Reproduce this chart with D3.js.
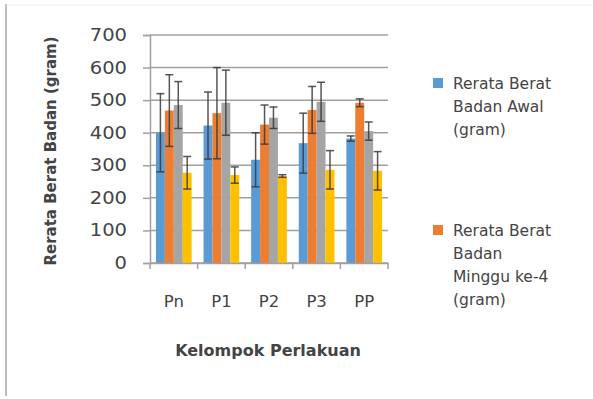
<!DOCTYPE html>
<html><head><meta charset="utf-8">
<script src="https://cdn.jsdelivr.net/npm/d3@7"></script>
<style>html,body{margin:0;padding:0;background:#fff;}svg{display:block;}</style>
</head><body>
<svg id="chart" width="593" height="399"></svg>
<script>
const categories = ["Pn", "P1", "P2", "P3", "PP"];
const seriesNames = ["Rerata Berat Badan Awal (gram)", "Rerata Berat Badan Minggu ke-4 (gram)", "Seri 3", "Seri 4"];
const awal = [400, 422, 317, 368, 382];
const awalErr = [120, 103, 83, 92, 8];
const minggu4 = [468, 460, 425, 470, 492];
const minggu4Err = [110, 140, 60, 72, 12];
const seri3 = [485, 492, 446, 495, 405];
const seri3Err = [72, 100, 33, 60, 28];
const seri4 = [277, 270, 267, 286, 283];
const seri4Err = [50, 25, 4, 59, 59];
const yTicks = [0, 100, 200, 300, 400, 500, 600, 700];
const colors = ["#5B9BD5", "#ED7D31", "#A5A5A5", "#FFC000"];

const values = [awal, minggu4, seri3, seri4];
const errs = [awalErr, minggu4Err, seri3Err, seri4Err];

const svg = d3.select("#chart");
const font = "DejaVu Sans, sans-serif";
const textCol = "#444";

// outer border
svg.append("line").attr("x1", 6).attr("x2", 6).attr("y1", 4).attr("y2", 396)
  .attr("stroke", "#bdbdbd").attr("stroke-width", 2);
svg.append("line").attr("x1", 6).attr("x2", 593).attr("y1", 5).attr("y2", 5)
  .attr("stroke", "#ececec").attr("stroke-width", 1);

const y = d3.scaleLinear().domain([0, 700]).range([263, 35]);
const x0 = d3.scaleBand().domain(categories).range([150, 388]).paddingInner(0.25).paddingOuter(0.125);
const x1 = d3.scaleBand().domain(d3.range(4)).range([0, x0.bandwidth()]);

// gridlines
svg.append("g").selectAll("line").data(yTicks).join("line")
  .attr("x1", 150).attr("x2", 388)
  .attr("y1", d => y(d)).attr("y2", d => y(d))
  .attr("stroke", "#a0a0a0").attr("stroke-width", 1.5);

// y axis
const yAxis = svg.append("g").attr("transform", "translate(150,0)")
  .call(d3.axisLeft(y).tickValues(yTicks).tickSize(7).tickPadding(16));
yAxis.select(".domain").attr("stroke", "#a0a0a0").attr("stroke-width", 1.5);
yAxis.selectAll(".tick line").attr("stroke", "#a0a0a0").attr("stroke-width", 1.5);
yAxis.selectAll(".tick text").attr("font-family", font).attr("font-size", 17)
  .attr("fill", textCol).attr("transform", "scale(1.15,1)").attr("x", -20);

// bars
const groups = svg.append("g").selectAll("g").data(categories).join("g")
  .attr("transform", d => `translate(${x0(d)},0)`);
groups.each(function(cat, ci) {
  const g = d3.select(this);
  const rows = d3.range(4).map(si => ({si, v: values[si][ci], e: errs[si][ci]}));
  g.selectAll("rect").data(rows).join("rect")
    .attr("x", d => x1(d.si)).attr("width", x1.bandwidth())
    .attr("y", d => y(d.v)).attr("height", d => y(0) - y(d.v))
    .attr("fill", d => colors[d.si]);
  const eb = g.selectAll("g.err").data(rows).join("g").attr("class", "err");
  eb.append("line")
    .attr("x1", d => x1(d.si) + x1.bandwidth() / 2).attr("x2", d => x1(d.si) + x1.bandwidth() / 2)
    .attr("y1", d => y(d.v + d.e)).attr("y2", d => y(d.v - d.e))
    .attr("stroke", "#3a3a3a").attr("stroke-width", 1.5).attr("opacity", 0.85);
  [1, -1].forEach(s => {
    eb.append("line")
      .attr("x1", d => x1(d.si) + x1.bandwidth() / 2 - 4).attr("x2", d => x1(d.si) + x1.bandwidth() / 2 + 4)
      .attr("y1", d => y(d.v + s * d.e)).attr("y2", d => y(d.v + s * d.e))
      .attr("stroke", "#3a3a3a").attr("stroke-width", 1.5).attr("opacity", 0.85);
  });
});

// x axis
const xAxis = svg.append("g").attr("transform", "translate(0,263)")
  .call(d3.axisBottom(x0).tickSize(0).tickPadding(32));
xAxis.select(".domain").attr("stroke", "#a0a0a0").attr("stroke-width", 1.5);
xAxis.selectAll(".tick text").attr("font-family", font).attr("font-size", 16.5).attr("fill", textCol);
// boundary tick marks
svg.append("g").selectAll("line").data(d3.range(categories.length + 1)).join("line")
  .attr("x1", i => 150 + i * x0.step()).attr("x2", i => 150 + i * x0.step())
  .attr("y1", 263).attr("y2", 269).attr("stroke", "#a0a0a0").attr("stroke-width", 1.5);

// axis titles
svg.append("text").attr("x", 268).attr("y", 356).attr("text-anchor", "middle")
  .attr("font-family", font).attr("font-size", 16).attr("font-weight", "bold").attr("fill", textCol)
  .text("Kelompok Perlakuan");
svg.append("text").attr("transform", "translate(56,151) rotate(-90)").attr("text-anchor", "middle")
  .attr("font-family", font).attr("font-size", 15).attr("font-weight", "bold").attr("fill", textCol)
  .text("Rerata Berat Badan (gram)");

// legend (only first two entries visible)
const legendLines = [["Rerata Berat", "Badan Awal", "(gram)"], ["Rerata Berat", "Badan", "Minggu ke-4", "(gram)"]];
const legendTop = [83, 230];
legendLines.forEach((lines, i) => {
  svg.append("rect").attr("x", 433).attr("y", legendTop[i] - 5).attr("width", 10).attr("height", 10)
    .attr("fill", colors[i]);
  const t = svg.append("text").attr("font-family", font).attr("font-size", 15.5).attr("fill", textCol);
  lines.forEach((l, j) => {
    t.append("tspan").attr("x", 453).attr("y", legendTop[i] + 6 + j * 23).text(l);
  });
});
</script>
</body></html>
